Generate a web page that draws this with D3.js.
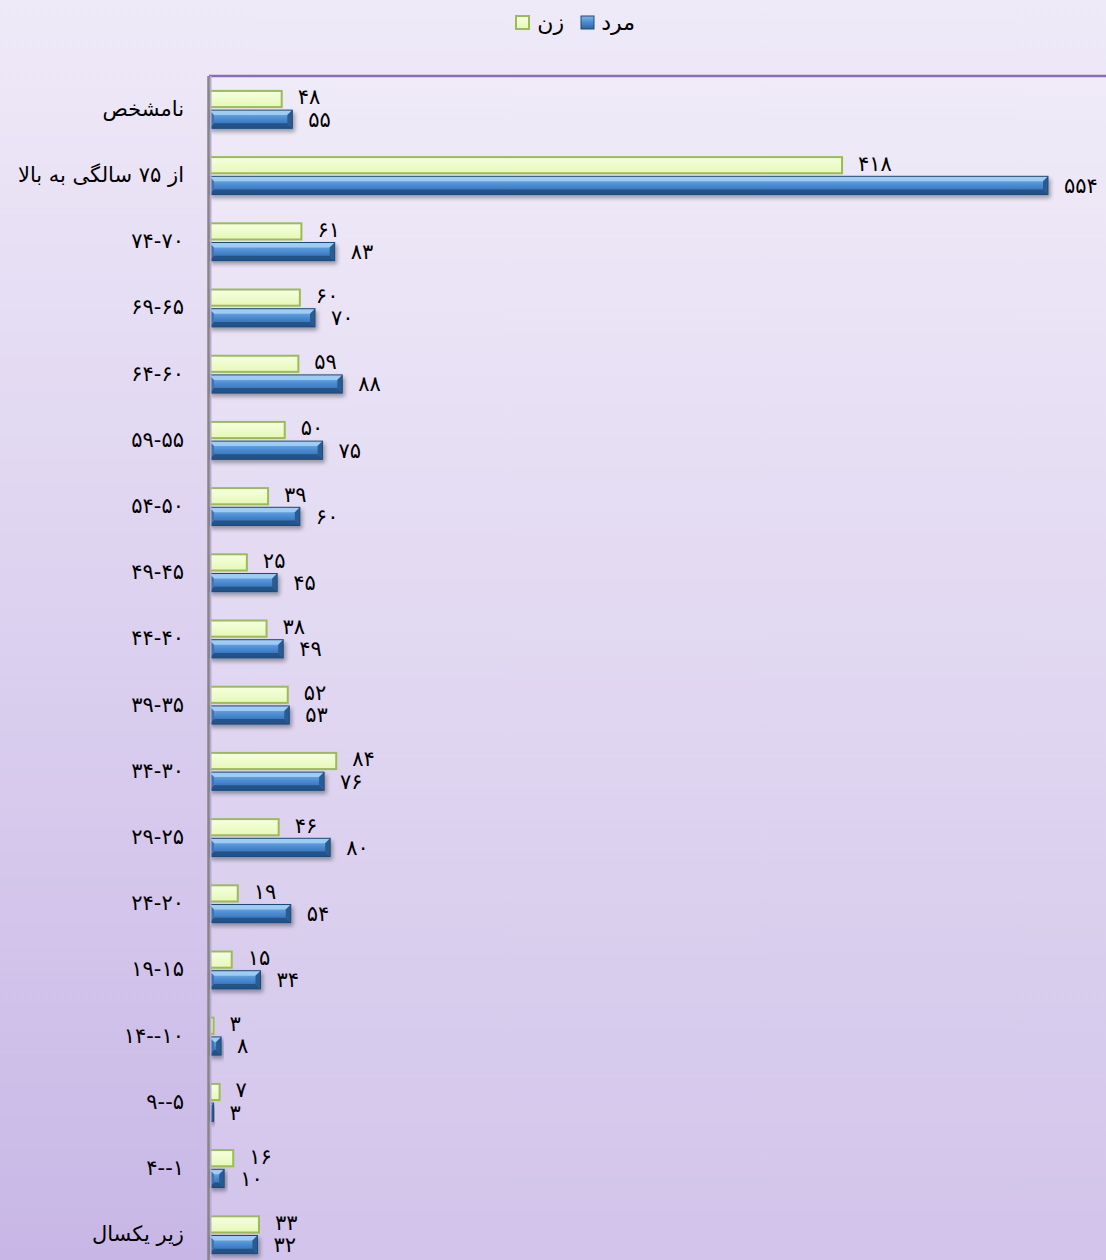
<!DOCTYPE html>
<html><head><meta charset="utf-8">
<script src="https://cdn.jsdelivr.net/npm/d3@7"></script>
<style>html,body{margin:0;padding:0;overflow:hidden;}</style>
</head><body>
<script>
const categories = ["نامشخص","از ۷۵ سالگی به بالا","۷۴-۷۰","۶۹-۶۵","۶۴-۶۰","۵۹-۵۵","۵۴-۵۰","۴۹-۴۵","۴۴-۴۰","۳۹-۳۵","۳۴-۳۰","۲۹-۲۵","۲۴-۲۰","۱۹-۱۵","۱۴--۱۰","۹--۵","۴--۱","زیر یکسال"];
const women = [48,418,61,60,59,50,39,25,38,52,84,46,19,15,3,7,16,33];
const men   = [55,554,83,70,88,75,60,45,49,53,76,80,54,34,8,3,10,32];
const seriesNames = ["زن","مرد"];

const W = 1106, H = 1260;
const fa = n => String(n).replace(/\d/g, d => "۰۱۲۳۴۵۶۷۸۹"[d]);
const FONT = "'DejaVu Sans', sans-serif";
const isNumeric = s => !/[\u0621-\u064A\u067E\u0686\u0698\u06A9\u06AF\u06CC]/.test(s);

const svg = d3.select("body").append("svg").attr("width", W).attr("height", H);
const defs = svg.append("defs");

const bg = defs.append("linearGradient").attr("id","bg").attr("x1",0).attr("y1",0).attr("x2",0).attr("y2",1);
bg.append("stop").attr("offset","0%").attr("stop-color","#efeaf8");
bg.append("stop").attr("offset","100%").attr("stop-color","#c8b7e6");
svg.append("rect").attr("width",W).attr("height",H).attr("fill","url(#bg)");

const gG = defs.append("linearGradient").attr("id","gg").attr("x1",0).attr("y1",0).attr("x2",0).attr("y2",1);
gG.append("stop").attr("offset","0%").attr("stop-color","#f6ffe3");
gG.append("stop").attr("offset","100%").attr("stop-color","#e6f8b4");

const bG = defs.append("linearGradient").attr("id","bgrad").attr("x1",0).attr("y1",0).attr("x2",0).attr("y2",1);
bG.append("stop").attr("offset","0%").attr("stop-color","#7fb6ea");
bG.append("stop").attr("offset","50%").attr("stop-color","#4a8ad2");
bG.append("stop").attr("offset","100%").attr("stop-color","#2d639f");

const sh = defs.append("filter").attr("id","sh").attr("x","-10%").attr("y","-30%").attr("width","130%").attr("height","190%");
sh.append("feGaussianBlur").attr("in","SourceAlpha").attr("stdDeviation",2);
sh.append("feOffset").attr("dx",2).attr("dy",3).attr("result","b");
sh.append("feComponentTransfer").append("feFuncA").attr("type","linear").attr("slope",0.35);
const m = sh.append("feMerge"); m.append("feMergeNode"); m.append("feMergeNode").attr("in","SourceGraphic");

const x0 = 209, plotTop = 76;
const x = d3.scaleLinear().domain([0, 554]).range([x0, 1048]);
const y = d3.scaleBand().domain(categories).range([plotTop, plotTop + 18*66.2]).paddingInner(0.42).paddingOuter(0.21);
const ys = d3.scaleBand().domain(seriesNames).range([0, y.bandwidth()]).paddingInner(0.1);

// plot area
svg.append("rect").attr("x",x0).attr("y",plotTop).attr("width",W-x0).attr("height",H-plotTop).attr("fill","#ffffff").attr("opacity",0.18);
svg.append("line").attr("x1",x0).attr("x2",W).attr("y1",plotTop).attr("y2",plotTop).attr("stroke","#8b6db3").attr("stroke-width",2.5);

const rows = svg.append("g").selectAll("g").data(categories).join("g")
  .attr("transform", d => `translate(0,${y(d)})`);

// women bars
rows.append("rect")
  .attr("x", x0).attr("y", ys("زن")+1)
  .attr("width", (d,i) => Math.max(0, x(women[i]) - x0))
  .attr("height", ys.bandwidth()-2)
  .attr("fill","url(#gg)").attr("stroke","#9bbb59").attr("stroke-width",2);

// men bars (bevelled)
rows.each(function(d,i){
  const g = d3.select(this).append("g").attr("filter","url(#sh)");
  const xa = x0, xb = x(men[i]), ya = ys("مرد"), h = ys.bandwidth(), yb = ya + h;
  const w = xb - xa;
  const b = Math.min(5, w/2);
  g.append("rect").attr("x",xa).attr("y",ya).attr("width",w).attr("height",h).attr("fill","url(#bgrad)");
  g.append("polygon").attr("points",[[xa,ya],[xb,ya],[xb-b,ya+b],[xa+b,ya+b]].join(" ")).attr("fill","#a6d2f7").attr("opacity",0.85);
  g.append("polygon").attr("points",[[xa,yb],[xb,yb],[xb-b,yb-b],[xa+b,yb-b]].join(" ")).attr("fill","#244f82").attr("opacity",0.9);
  g.append("polygon").attr("points",[[xb,ya],[xb,yb],[xb-b,yb-b],[xb-b,ya+b]].join(" ")).attr("fill","#2a5c94");
  g.append("polygon").attr("points",[[xa,ya],[xa,yb],[xa+b,yb-b],[xa+b,ya+b]].join(" ")).attr("fill","#3a74b6");
  g.append("rect").attr("x",xa).attr("y",ya).attr("width",w).attr("height",h).attr("fill","none").attr("stroke","#1f4a7a").attr("stroke-width",1);
});

// value labels
rows.append("text").attr("x",(d,i)=>x(women[i])+16).attr("y",ys("زن")+ys.bandwidth()/2-2)
  .attr("dy","0.35em").attr("font-family",FONT).attr("font-size",21).attr("letter-spacing",3).attr("fill","#000")
  .text((d,i)=>fa(women[i]));
rows.append("text").attr("x",(d,i)=>x(men[i])+16).attr("y",ys("مرد")+ys.bandwidth()/2)
  .attr("dy","0.35em").attr("font-family",FONT).attr("font-size",21).attr("letter-spacing",3).attr("fill","#000")
  .text((d,i)=>fa(men[i]));

// category axis
const axis = svg.append("g").attr("transform",`translate(${x0},0)`)
  .call(d3.axisLeft(y).tickSize(0).tickPadding(25));
axis.select(".domain").remove();
axis.selectAll("text").attr("font-family",FONT).attr("font-size",21).attr("fill","#000")
  .attr("letter-spacing", d => isNumeric(d) ? 2.5 : 0);
svg.append("line").attr("x1",x0+1.5).attr("x2",x0+1.5).attr("y1",plotTop).attr("y2",H).attr("stroke","#bba9d6").attr("stroke-width",2);
svg.append("line").attr("x1",x0-0.5).attr("x2",x0-0.5).attr("y1",plotTop).attr("y2",H).attr("stroke","#868686").attr("stroke-width",2.5);

// legend
const leg = svg.append("g").attr("font-family",FONT).attr("font-size",22);
leg.append("rect").attr("x",516).attr("y",16).attr("width",13).attr("height",13).attr("fill","url(#gg)").attr("stroke","#9bbb59").attr("stroke-width",2);
leg.append("text").attr("x",564).attr("y",22).attr("dy","0.35em").attr("text-anchor","end").text("زن");
leg.append("rect").attr("x",581).attr("y",16).attr("width",13).attr("height",13).attr("fill","url(#bgrad)").attr("stroke","#1f4a7a").attr("stroke-width",1);
leg.append("text").attr("x",635).attr("y",22).attr("dy","0.35em").attr("text-anchor","end").text("مرد");
</script>
</body></html>
